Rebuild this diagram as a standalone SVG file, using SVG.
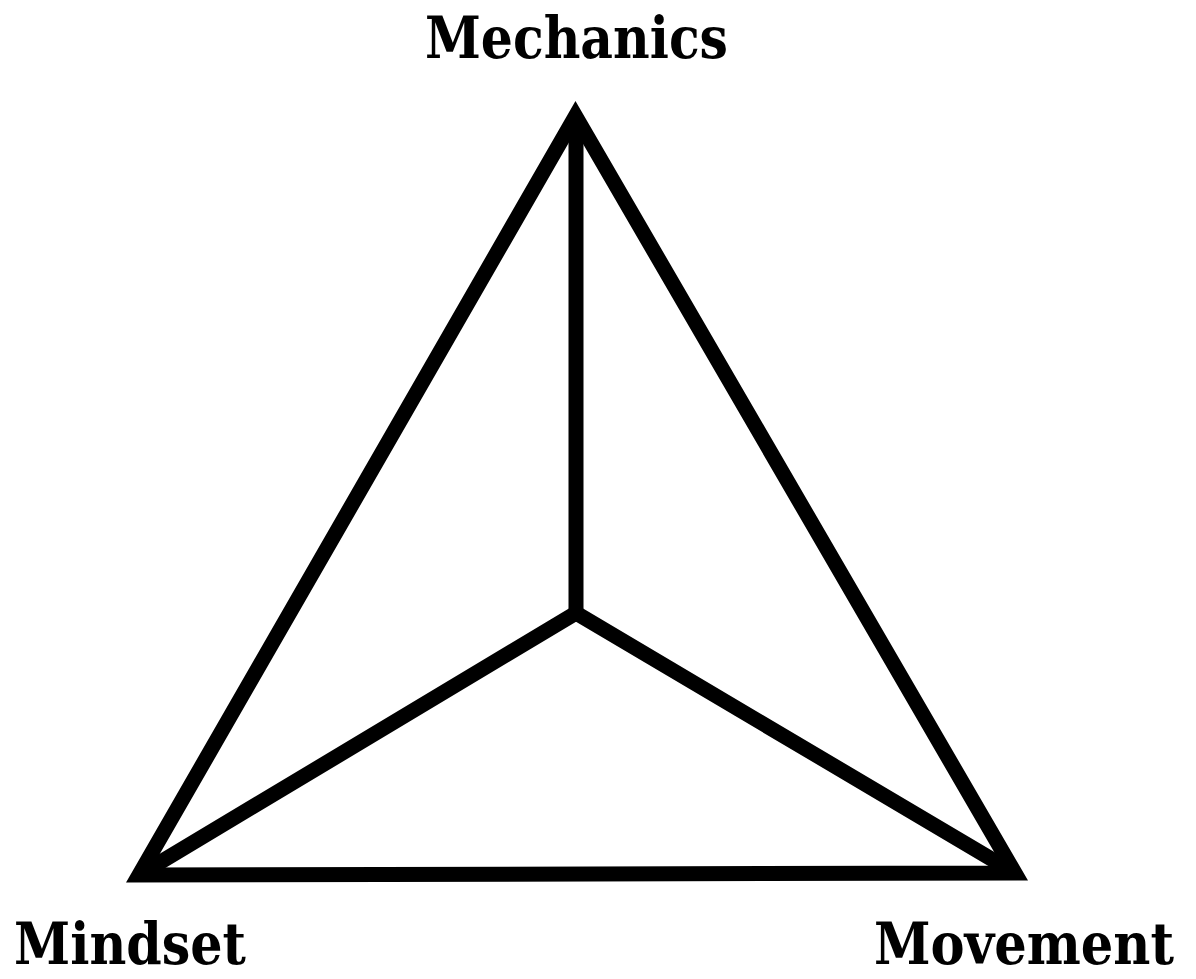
<svg xmlns="http://www.w3.org/2000/svg" width="1196" height="979" viewBox="0 0 1196 979">
<style>
.edge{fill:none;stroke:#000;stroke-width:15;stroke-linejoin:miter;stroke-miterlimit:10;stroke-linecap:butt}
.lbl{font-family:"DejaVu Serif Condensed","DejaVu Serif","Liberation Serif",serif;font-weight:bold;font-size:58px;fill:#000}
</style>
<rect width="1196" height="979" fill="#fff"/>
<g id="connectors">
<polygon class="edge" points="575.5,116 139,875 1015,873"/>
<polyline class="edge" points="576,116 576,613"/>
<polyline class="edge" points="139,875 576,613 1015,873"/>
</g>
<g id="node-mechanics"><text class="lbl" x="425" y="58" textLength="303" lengthAdjust="spacingAndGlyphs">Mechanics</text></g>
<g id="node-mindset"><text class="lbl" x="14" y="964" textLength="232" lengthAdjust="spacingAndGlyphs">Mindset</text></g>
<g id="node-movement"><text class="lbl" x="874" y="964" textLength="300" lengthAdjust="spacingAndGlyphs">Movement</text></g>
</svg>
